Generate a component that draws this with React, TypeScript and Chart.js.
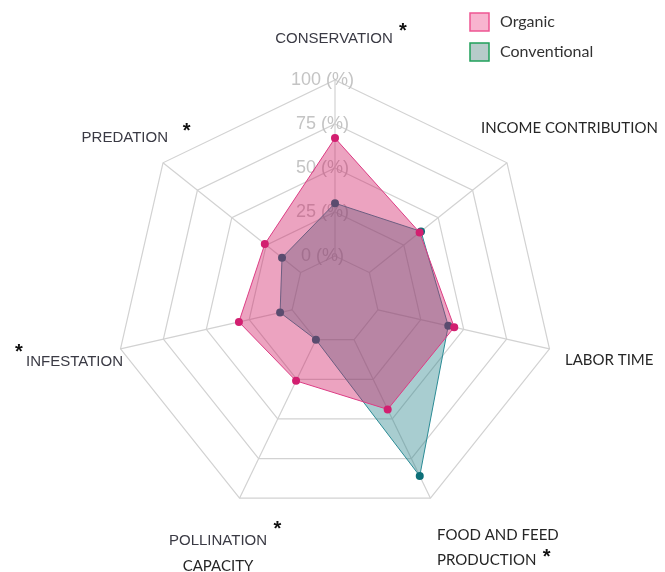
import React, { useEffect, useRef } from "react";
import { Chart, registerables } from "chart.js";

Chart.register(...registerables);

// ---------- DATA ----------
const categories = [
  "CONSERVATION",
  "INCOME CONTRIBUTION",
  "LABOR TIME",
  "FOOD AND FEED PRODUCTION",
  "POLLINATION CAPACITY",
  "INFESTATION",
  "PREDATION",
];
const categoryLines = [
  ["CONSERVATION"],
  ["INCOME CONTRIBUTION"],
  ["LABOR TIME"],
  ["FOOD AND FEED", "PRODUCTION"],
  ["POLLINATION", "CAPACITY"],
  ["INFESTATION"],
  ["PREDATION"],
];
const significant = [true, false, false, true, true, true, true];
const seriesNames = ["Organic", "Conventional"];
const organicValues = [67, 36.5, 44.5, 44, 26, 31, 26];
const conventionalValues = [30, 37.5, 41, 86, 0, 7, 13.5];
const tickValues = [0, 25, 50, 75, 100];
const tickSuffix = " (%)";

// ---------- STYLE ----------
const FONT_A = '"Liberation Sans", Arial, sans-serif';
const FONT_B = 'Lato, "Open Sans", sans-serif';

const seriesStyle = [
  {
    fill: "rgba(207, 25, 97, 0.4)",
    line: "#dc3c84",
    point: "#d21f70",
    legendFill: "#f8b4cf",
    legendBorder: "#ee5592",
  },
  {
    fill: "rgba(37, 130, 137, 0.4)",
    line: "#2b8b95",
    point: "#0d6f78",
    legendFill: "#b7cbca",
    legendBorder: "#1fa05a",
  },
];

// label placement relative to the outer vertex of each axis
const labelLayout: any[] = [
  { align: "center", dx: -1, dy: -42.5, gap: 0, fonts: ["A"], star: [68, -53] },
  { align: "left", dx: -26, dy: -35.3, gap: 0, fonts: ["B"], star: null },
  { align: "left", dx: 15.5, dy: 10.5, gap: 0, fonts: ["B"], star: null },
  { align: "left", dx: 6.6, dy: 35.8, gap: 25.5, fonts: ["B", "B"], star: [116.3, 55.1] },
  { align: "center", dx: -21.5, dy: 41.8, gap: 25, fonts: ["A", "B"], star: [37.8, 26.8] },
  { align: "right", dx: 2.5, dy: 12, gap: 0, fonts: ["A"], star: [-101.5, -1] },
  { align: "right", dx: 5, dy: -26.1, gap: 0, fonts: ["A"], star: [23.7, -36.1] },
];

const spokesPlugin = {
  id: "spokes",
  beforeDatasetsDraw(chart: any) {
    const scale = chart.scales.r;
    const ctx = chart.ctx;
    const r0 = scale.getDistanceFromCenterForValue(tickValues[0]);
    const r1 = scale.getDistanceFromCenterForValue(tickValues[tickValues.length - 1]);
    ctx.save();
    ctx.strokeStyle = "#d2d2d2";
    ctx.lineWidth = 1.2;
    for (let i = 0; i < categories.length; i++) {
      const a = scale.getPointPosition(i, r0);
      const b = scale.getPointPosition(i, r1);
      ctx.beginPath();
      ctx.moveTo(a.x, a.y);
      ctx.lineTo(b.x, b.y);
      ctx.stroke();
    }
    ctx.restore();
  },
};

const labelsPlugin = {
  id: "radarLabels",
  afterDraw(chart: any) {
    const scale = chart.scales.r;
    const ctx = chart.ctx;
    ctx.save();
    categoryLines.forEach((lines, i) => {
      const v = scale.getPointPosition(i, scale.drawingArea);
      const L = labelLayout[i];
      lines.forEach((text, j) => {
        const isA = L.fonts[j] === "A";
        ctx.font = isA ? `15px ${FONT_A}` : `15px ${FONT_B}`;
        ctx.fillStyle = isA ? "#3a3a44" : "#262626";
        ctx.textAlign = L.align;
        ctx.textBaseline = "alphabetic";
        const cap = ctx.measureText("H").actualBoundingBoxAscent;
        const cy = v.y + L.dy + j * L.gap;
        ctx.fillText(text, v.x + L.dx, cy + cap / 2);
      });
      if (significant[i] && L.star) {
        ctx.font = `bold 20px ${FONT_A}`;
        ctx.fillStyle = "#111";
        ctx.textAlign = "center";
        ctx.textBaseline = "alphabetic";
        const m = ctx.measureText("*");
        const cy = v.y + L.star[1];
        ctx.fillText("*", v.x + L.star[0], cy + (m.actualBoundingBoxAscent - m.actualBoundingBoxDescent) / 2);
      }
    });
    ctx.restore();
  },
};

const legendPlugin = {
  id: "customLegend",
  afterDraw(chart: any) {
    const ctx = chart.ctx;
    ctx.save();
    chart.data.datasets.forEach((ds: any, i: number) => {
      const st = seriesStyle[i];
      const bx = 470;
      const by = 13 + i * 30;
      ctx.fillStyle = st.legendFill;
      ctx.fillRect(bx, by, 19, 18);
      ctx.strokeStyle = st.legendBorder;
      ctx.lineWidth = 1.5;
      ctx.strokeRect(bx, by, 19, 18);
      ctx.font = `16px ${FONT_B}`;
      ctx.fillStyle = "#333";
      ctx.textAlign = "left";
      ctx.textBaseline = "alphabetic";
      const cap = ctx.measureText("H").actualBoundingBoxAscent;
      ctx.fillText(ds.label, 500, by + 8 + cap / 2);
    });
    ctx.restore();
  },
};

export default function App() {
  const ref = useRef<HTMLCanvasElement>(null);
  useEffect(() => {
    const chart = new Chart(ref.current as HTMLCanvasElement, {
      type: "radar",
      data: {
        labels: categories,
        datasets: [
          {
            label: seriesNames[0],
            data: organicValues,
            backgroundColor: seriesStyle[0].fill,
            borderColor: seriesStyle[0].line,
            borderWidth: 1,
            pointBackgroundColor: seriesStyle[0].point,
            pointBorderColor: seriesStyle[0].point,
            pointBorderWidth: 0,
            pointRadius: 4,
            fill: "start",
          },
          {
            label: seriesNames[1],
            data: conventionalValues,
            backgroundColor: seriesStyle[1].fill,
            borderColor: seriesStyle[1].line,
            borderWidth: 1,
            pointBackgroundColor: seriesStyle[1].point,
            pointBorderColor: seriesStyle[1].point,
            pointBorderWidth: 0,
            pointRadius: 4,
            fill: "start",
          },
        ],
      },
      options: {
        responsive: false,
        animation: false,
        layout: { padding: { left: 100, right: 95, top: 71, bottom: 43 } },
        plugins: { legend: { display: false }, tooltip: { enabled: false } },
        elements: { line: { tension: 0 } },
        scales: {
          r: {
            min: -25,
            max: 100,
            ticks: {
              stepSize: 25,
              showLabelBackdrop: false,
              backdropPadding: 0,
              color: "#c4c4c4",
              font: { family: FONT_A, size: 18 },
              callback: (v: any) => (tickValues.includes(v) ? `${v}${tickSuffix}     ` : ""),
            },
            grid: { color: "#d2d2d2", lineWidth: 1.2 },
            angleLines: { display: false },
            pointLabels: { display: false },
          },
        },
      } as any,
      plugins: [spokesPlugin, labelsPlugin, legendPlugin],
    });
    return () => chart.destroy();
  }, []);
  return (
    <div style={{ position: "fixed", left: 0, top: 0, width: 665, height: 572, background: "#fff" }}>
      <canvas ref={ref} width={665} height={572} style={{ display: "block" }} />
    </div>
  );
}
